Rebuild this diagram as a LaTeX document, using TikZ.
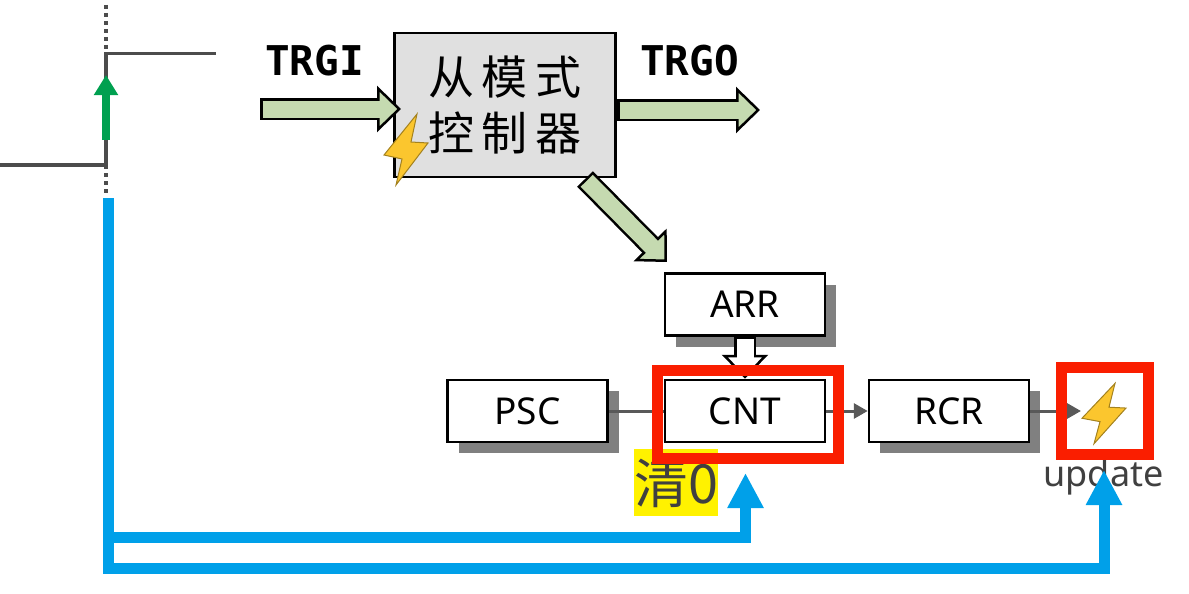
\documentclass[tikz,border=0pt]{standalone}
\usepackage{fontspec}
\setmainfont{Noto Sans}
\newfontfamily\cjkfont{Noto Sans CJK SC}
\newfontfamily\trigfont{DejaVu Sans Mono}
\usetikzlibrary{shapes,arrows,arrows.meta,positioning,shadows}
\definecolor{fatgreen}{HTML}{C5DAB0}
\definecolor{wireblue}{HTML}{00A0E9}
\definecolor{edgegreen}{HTML}{00A050}
\definecolor{boltyellow}{HTML}{FBC62E}
\definecolor{redmark}{HTML}{FA1E00}
\definecolor{wiregray}{HTML}{595959}

\begin{document}
\begin{tikzpicture}[x=1pt,y=-1pt,
	counter/.style = {rectangle, draw, line width=2.5pt, fill=white, minimum width=160pt, minimum height=62pt, inner sep=0pt, font=\fontsize{37}{40}\selectfont},
	register/.style = {counter, drop shadow={shadow xshift=11pt, shadow yshift=-11pt, fill=gray, opacity=1}},
	slave/.style = {rectangle, draw, line width=2.5pt, fill=black!12, minimum width=221pt, minimum height=144pt, align=center, inner sep=0pt, font=\cjkfont\fontsize{46}{56}\selectfont},
	trigger/.style = {font=\trigfont\bfseries\fontsize{41}{44}\selectfont, inner sep=0pt},
	redbox/.style = {rectangle, draw=redmark, line width=11pt, inner sep=0pt},
	line/.style = {draw, wiregray, line width=3pt, -{Triangle[length=14pt,width=15pt]}},
	level/.style = {draw, black!70, line width=3.5pt},
	bluewire/.style = {draw, wireblue, line width=11pt, line join=miter, -{Triangle[length=35pt,width=34pt]}},
	fat/.style = {draw, black, line width=22pt, -{Triangle[length=24pt,width=46pt,line width=2.5pt,fill=#1]}, postaction={draw=#1, line width=17pt, arrows=-, shorten >=20pt, shorten <=2.5pt}},
	bolt/.pic = {\path[draw=black!35!boltyellow, line width=1pt, fill=boltyellow] (11,-36) -- (-22,5) -- (-4,9) -- (-10,35) -- (22,-7) -- (5,-8) -- cycle;}]
	\useasboundingbox (0,0) rectangle (1189,594);

	\node[slave] (controller) at (505,105) {从\,模\,式\\控\,制\,器};
	\node[trigger] (trgi) at (314.5,61) {TRGI};
	\node[trigger] (trgo) at (689.5,61) {TRGO};
	\node[register] (arr) at (745,304.5) {ARR};
	\node[counter,below of=arr,node distance=106.5pt] (cnt) {CNT};
	\node[register,left of=cnt,node distance=217.5pt] (psc) {PSC};
	\node[register,right of=cnt,node distance=204pt] (rcr) {RCR};
	\node[fill=yellow, text=black!75, inner sep=0pt, minimum width=82pt, minimum height=67pt, font=\cjkfont\fontsize{54}{56}\selectfont] (clear) at (676,482.5) {\raisebox{-4pt}{清0}};
	\node[text=black!75, inner sep=0pt, font=\fontsize{36}{38}\selectfont] (update) at (1103.5,477) {update};

	% step edge of the input
	\coordinate (dottop) at (106,5);
	\coordinate (dotend) at (106,196);
	\coordinate (lowstart) at (0,165);
	\coordinate (lowend) at (106,165);
	\coordinate (highstart) at (106,53.5);
	\coordinate (highend) at (216,53.5);
	\coordinate (edgefoot) at (106,140);
	\coordinate (edgetip) at (106,75);
	\path[draw, black!70, line width=4pt, dash pattern=on 4pt off 4pt] (dottop) -- (dotend);
	\path[level] (lowstart) -- (lowend) -- (highstart) -- (highend);
	\path[draw, edgegreen, line width=8pt, -{Triangle[length=20pt,width=23pt]}] (edgefoot) -- (edgetip);

	% fat arrows round the controller
	\coordinate (trgiin) at (260,109);
	\coordinate (trgitip) at (401,109);
	\coordinate (trgoout) at (617,110);
	\coordinate (trgotip) at (760,110);
	\coordinate (downout) at (585,179);
	\coordinate (downtip) at (667,262);
	\path[fat=fatgreen] (trgiin) -- (trgitip);
	\path[fat=fatgreen] (trgoout) -- (trgotip);
	\path[fat=fatgreen] (downout) -- (downtip);
	\path[fat=white] (arr.south) -- (cnt.north);

	% registers
	\coordinate (boltin) at (1081,411);
	\path[line,arrows=-] (psc) -- (cnt);
	\path[line] (cnt) -- (rcr);
	\path[line] (rcr) -- (boltin);
	\node[redbox, minimum width=181pt, minimum height=88pt] (cntmark) at (747.5,414) {};
	\node[redbox, minimum width=87pt, minimum height=87pt] (updatemark) at (1104.5,411) {};
	\pic at (406,150) {bolt};
	\pic[yscale=0.85] at (1104,414) {bolt};

	% blue trigger lines
	\coordinate (bluetop) at (108.5,198);
	\coordinate (bluefork) at (108.5,537.5);
	\coordinate (bluecorner) at (108.5,568.5);
	\coordinate (cntfoot) at (745.5,537.5);
	\coordinate (cnttip) at (745.5,473);
	\coordinate (updatefoot) at (1104,568.5);
	\coordinate (updatetip) at (1104,470);
	\path[bluewire] (bluetop) -- (bluecorner) -- (updatefoot) -- (updatetip);
	\path[bluewire] (bluefork) -- (cntfoot) -- (cnttip);
\end{tikzpicture}
\end{document}
